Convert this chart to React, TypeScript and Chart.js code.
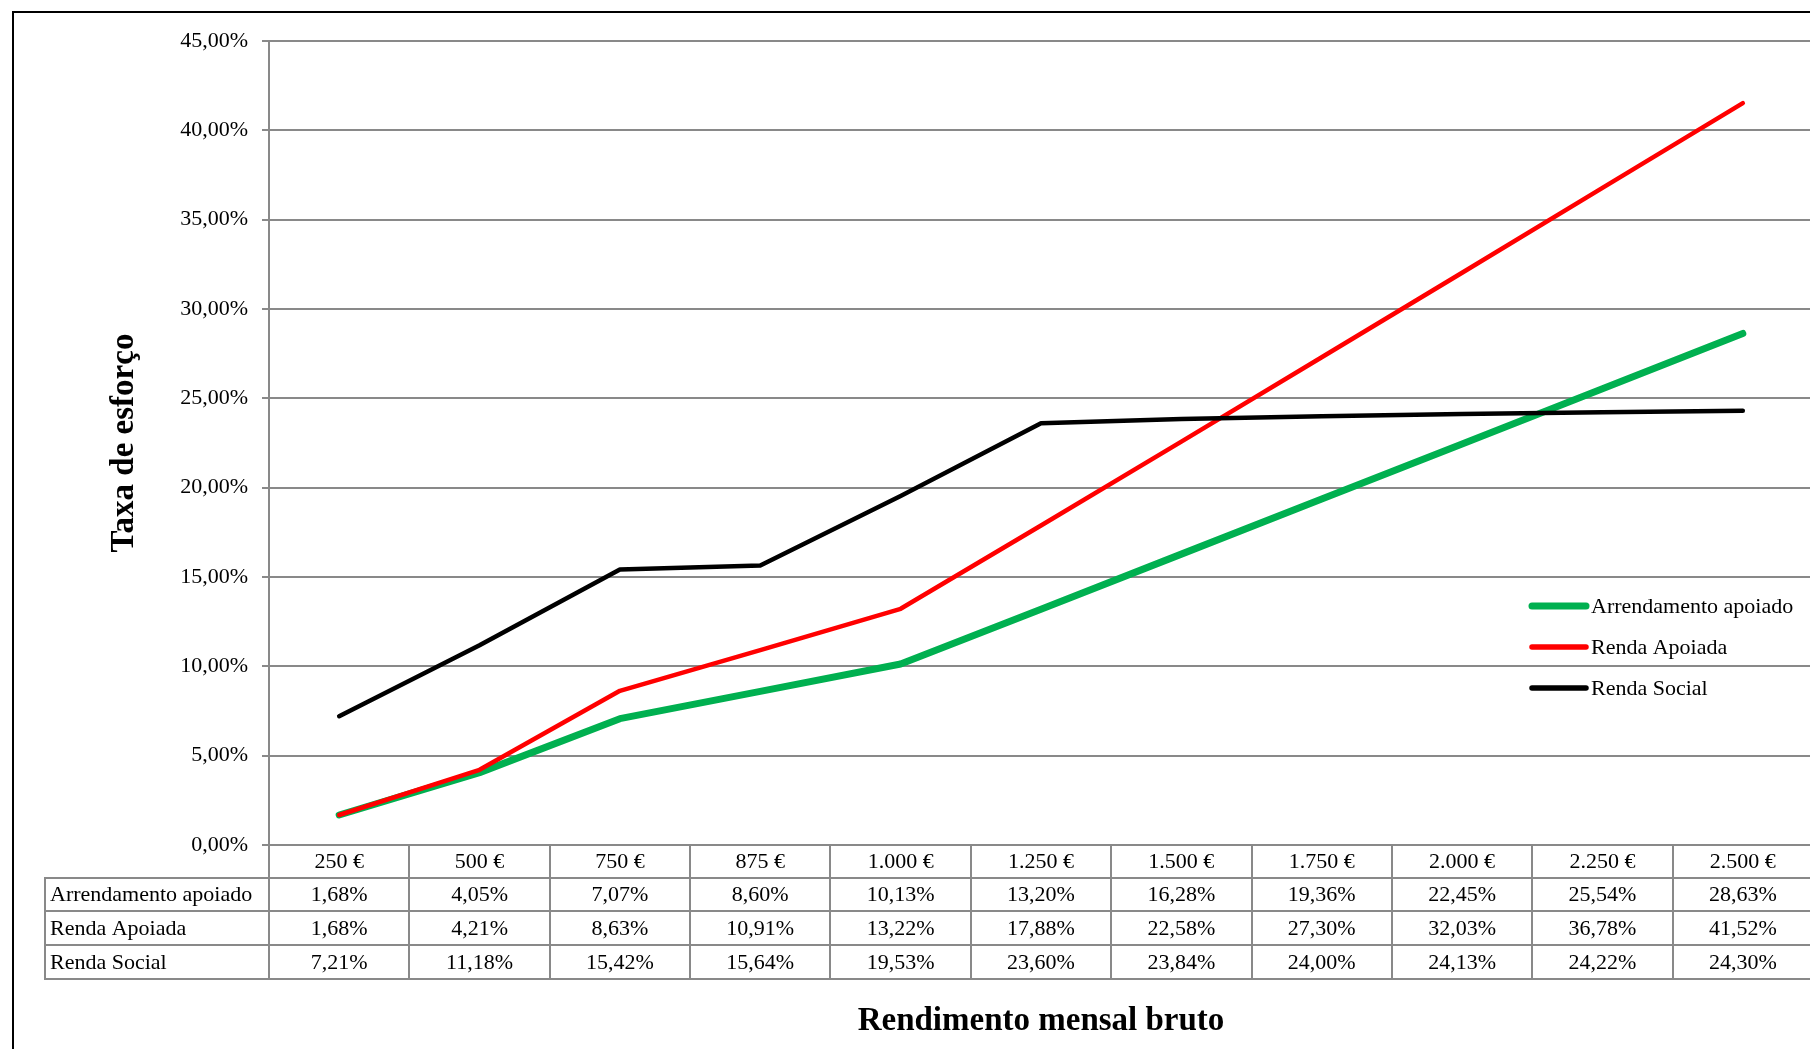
import React, { useEffect, useRef } from "react";
import { Chart, registerables } from "chart.js";

Chart.register(...registerables);

const categories = ["250 €", "500 €", "750 €", "875 €", "1.000 €", "1.250 €", "1.500 €", "1.750 €", "2.000 €", "2.250 €", "2.500 €"];
const arrendamentoApoiado = [1.68, 4.05, 7.07, 8.6, 10.13, 13.2, 16.28, 19.36, 22.45, 25.54, 28.63];
const rendaApoiada = [1.68, 4.21, 8.63, 10.91, 13.22, 17.88, 22.58, 27.3, 32.03, 36.78, 41.52];
const rendaSocial = [7.21, 11.18, 15.42, 15.64, 19.53, 23.6, 23.84, 24.0, 24.13, 24.22, 24.3];
const seriesNames = ["Arrendamento apoiado", "Renda Apoiada", "Renda Social"];
const seriesColors = ["#00B050", "#FF0000", "#000000"];
const seriesWidths = [7, 4.5, 4.5];
const yMin = 0;
const yMax = 45;
const yStep = 5;
const yTitle = "Taxa de esforço";
const xTitle = "Rendimento mensal bruto";

const FONT = "'Liberation Serif', 'Times New Roman', serif";
const GRID = "#898989";

const fmt = (v: number) => v.toFixed(2).replace(".", ",") + "%";

const overlayPlugin = {
  id: "overlay",
  afterDraw(chart: any) {
    const ctx = chart.ctx as CanvasRenderingContext2D;
    const area = chart.chartArea;
    const xs = chart.scales.x;
    const n = categories.length;
    const colW = (area.right - area.left) / n;
    const rowH = 33.8;
    const headerTop = area.bottom;
    const headerBottom = headerTop + 32.5;
    const tableLeft = 45;
    const rowsData = chart.data.datasets.map((d: any) => d.data as number[]);
    const tableBottom = headerBottom + rowH * rowsData.length;

    ctx.save();
    // table grid
    ctx.strokeStyle = GRID;
    ctx.lineWidth = 2;
    ctx.beginPath();
    for (let r = 0; r <= rowsData.length; r++) {
      const y = Math.round(headerBottom + r * rowH);
      ctx.moveTo(tableLeft, y);
      ctx.lineTo(chart.width, y);
    }
    ctx.moveTo(tableLeft, Math.round(headerBottom) - 1);
    ctx.lineTo(tableLeft, Math.round(tableBottom) + 1);
    for (let i = 0; i <= n; i++) {
      const x = Math.round(area.left + i * colW);
      ctx.moveTo(x, headerTop);
      ctx.lineTo(x, Math.round(tableBottom) + 1);
    }
    ctx.stroke();

    // table text
    ctx.fillStyle = "#000";
    ctx.font = `22px ${FONT}`;
    ctx.textBaseline = "middle";
    ctx.textAlign = "center";
    categories.forEach((c, i) => {
      ctx.fillText(c, xs.getPixelForValue(i), (headerTop + headerBottom) / 2 + 1);
    });
    rowsData.forEach((vals: number[], r: number) => {
      const yc = headerBottom + r * rowH + rowH / 2 + 1;
      ctx.textAlign = "left";
      ctx.fillText(chart.data.datasets[r].label, tableLeft + 5, yc);
      ctx.textAlign = "center";
      vals.forEach((v, i) => ctx.fillText(fmt(v), xs.getPixelForValue(i), yc));
    });

    // legend
    const legX = 1532;
    const legY = 606;
    chart.data.datasets.forEach((d: any, i: number) => {
      const y = legY + i * 41;
      ctx.strokeStyle = d.borderColor;
      ctx.lineWidth = i === 0 ? 7 : 5.5;
      ctx.lineCap = "round";
      ctx.beginPath();
      ctx.moveTo(legX, y);
      ctx.lineTo(legX + 54, y);
      ctx.stroke();
      ctx.fillStyle = "#000";
      ctx.textAlign = "left";
      ctx.fillText(d.label, legX + 59, y + 1);
    });

    // axis titles
    ctx.fillStyle = "#000";
    ctx.font = `bold 33px ${FONT}`;
    ctx.textAlign = "center";
    ctx.textBaseline = "middle";
    ctx.fillText(xTitle, (area.left + area.right) / 2, 1021);
    ctx.save();
    ctx.translate(124, (area.top + area.bottom) / 2);
    ctx.rotate(-Math.PI / 2);
    ctx.fillText(yTitle, 0, 0);
    ctx.restore();

    // outer border
    ctx.strokeStyle = "#000";
    ctx.lineWidth = 2;
    ctx.strokeRect(13, 12, 2000, 1200);
    ctx.restore();
  },
};

export default function App() {
  const ref = useRef<HTMLCanvasElement>(null);
  useEffect(() => {
    document.body.style.margin = "0";
    document.body.style.overflow = "hidden";
    const series = [arrendamentoApoiado, rendaApoiada, rendaSocial];
    const chart = new Chart(ref.current as HTMLCanvasElement, {
      type: "line",
      data: {
        labels: categories,
        datasets: series.map((s, i) => ({
          label: seriesNames[i],
          data: s,
          borderColor: seriesColors[i],
          backgroundColor: seriesColors[i],
          borderWidth: seriesWidths[i],
          pointRadius: 0,
          tension: 0,
          borderCapStyle: "round",
          borderJoinStyle: "round",
          order: series.length - 1 - i,
        })),
      },
      options: {
        responsive: false,
        animation: false,
        devicePixelRatio: 1,
        layout: { padding: { left: 0, top: 41, right: 3, bottom: 204 } },
        plugins: { legend: { display: false }, tooltip: { enabled: false } },
        scales: {
          x: { type: "category", display: false, offset: true },
          y: {
            min: yMin,
            max: yMax,
            ticks: {
              stepSize: yStep,
              callback: (v: any) => fmt(Number(v)),
              color: "#000",
              font: { family: FONT, size: 22 },
              padding: 14,
            },
            grid: { color: GRID, lineWidth: 2, tickLength: 7, tickColor: GRID, drawTicks: true },
            border: { display: true, color: GRID, width: 2 },
            afterFit: (s: any) => {
              s.width = 269;
            },
          },
        },
      },
      plugins: [overlayPlugin],
    } as any);
    return () => chart.destroy();
  }, []);
  return (
    <div style={{ position: "absolute", left: 0, top: 0, width: 1816, height: 1049, background: "#fff" }}>
      <canvas ref={ref} width={1816} height={1049} style={{ display: "block", width: 1816, height: 1049 }} />
    </div>
  );
}
